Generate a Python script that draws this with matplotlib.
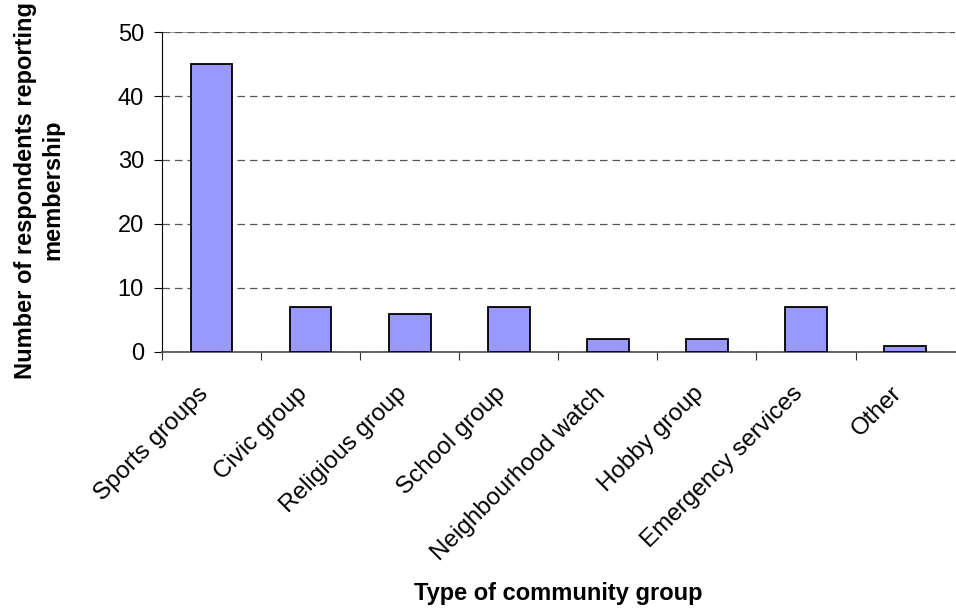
import matplotlib.pyplot as plt
import matplotlib.transforms as mtransforms
import numpy as np

groups = ['Sports groups', 'Civic group', 'Religious group', 'School group',
          'Neighbourhood watch', 'Hobby group', 'Emergency services', 'Other']
members = [45, 7, 6, 7, 2, 2, 7, 1]

plt.rcParams['font.family'] = ['Liberation Sans', 'DejaVu Sans']

fig = plt.figure(figsize=(9.56, 6.11), dpi=100)
ax = fig.add_axes([0.1695, 0.424, 0.829, 0.5236])

x = np.arange(len(groups))
ax.bar(x, members, width=0.42, color='#9999FF', edgecolor='black', linewidth=1.3, zorder=3)

ax.set_xlim(-0.5, len(groups) - 0.5)
ax.set_ylim(0, 50)
ax.set_yticks(range(0, 51, 10))
ax.yaxis.grid(True, linestyle=(0, (6, 4)), color='#555555', linewidth=0.9, zorder=0)
ax.axhline(50, color='#888888', linewidth=1.2, zorder=1)

# ticks between categories, labels under bars
ax.set_xticks(np.arange(-0.5, len(groups) - 0.5, 1.0))
ax.set_xticklabels([])
ax.set_xticks(x, minor=True)
ax.set_xticklabels(groups, minor=True, rotation=45, ha='right', va='top',
                   rotation_mode='anchor', fontsize=17.5)
ax.tick_params(axis='x', which='minor', length=0, pad=22)
ax.tick_params(axis='x', which='major', length=6, direction='out', color='#333333')
ax.tick_params(axis='y', length=6, direction='out', labelsize=17, pad=7)

# nudge the rotated labels a little to the left
shift = mtransforms.ScaledTranslation(-14 / 100, 0, fig.dpi_scale_trans)
for lbl in ax.get_xticklabels(minor=True):
    lbl.set_transform(lbl.get_transform() + shift)

for s in ['top', 'right']:
    ax.spines[s].set_visible(False)
ax.spines['left'].set_color('black')
ax.spines['bottom'].set_color('#555555')
ax.spines['bottom'].set_linewidth(1.3)

fig.text(0.041, 0.689, 'Number of respondents reporting\nmembership', fontsize=17,
         fontweight='bold', rotation=90, ha='center', va='center', multialignment='center')
fig.text(0.584, 0.028, 'Type of community group', fontsize=17, fontweight='bold',
         ha='center', va='center')

fig.savefig('out.png', dpi=100)
